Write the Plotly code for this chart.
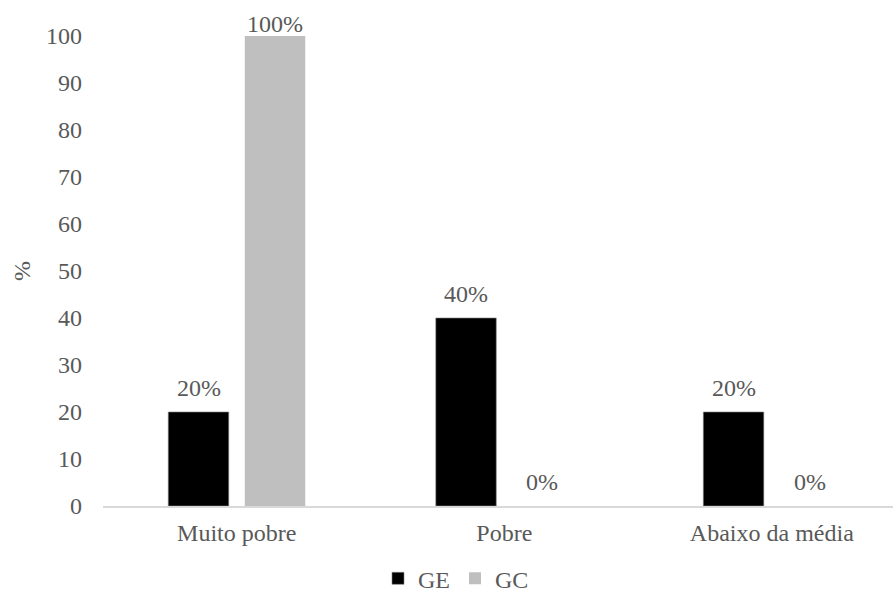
import plotly.graph_objects as go

categories = ["Muito pobre", "Pobre", "Abaixo da média"]
ge_values = [20, 40, 20]
gc_values = [100, 0, 0]
ge_labels = ["20%", "40%", "20%"]
gc_labels = ["100%", "0%", "0%"]
y_ticks = [0, 10, 20, 30, 40, 50, 60, 70, 80, 90, 100]

FONT = "'Times New Roman', 'Liberation Serif', Times, serif"
TXT = "#595959"
FS = 24
Y_MAX = 100

fig = go.Figure()
fig.add_trace(go.Bar(
    name="GE", x=categories, y=ge_values,
    marker=dict(color="#000000", line=dict(color="#7f7f7f", width=0.6)),
))
fig.add_trace(go.Bar(
    name="GC", x=categories, y=gc_values,
    marker=dict(color="#bfbfbf", line=dict(width=0)),
))

# data labels above each bar (label at the axis top is pulled down, as in the original)
for vals, labs, shift in ((ge_values, ge_labels, -38), (gc_values, gc_labels, 38)):
    for c, v, t in zip(categories, vals, labs):
        fig.add_annotation(x=c, y=v, text=t, showarrow=False, xref="x", yref="y",
                           xshift=shift, yanchor="bottom",
                           yshift=(-3 if v >= Y_MAX else 9),
                           font=dict(family=FONT, size=FS, color=TXT))

fig.update_layout(
    width=893, height=593,
    margin=dict(l=103, r=0, t=36, b=87, pad=0, autoexpand=False),
    paper_bgcolor="white", plot_bgcolor="white",
    font=dict(family=FONT, size=FS, color=TXT),
    barmode="group", bargap=0.428, bargroupgap=0.21,
    showlegend=True,
    legend=dict(orientation="h", x=(378 - 103) / 790, xref="paper", xanchor="left",
                yref="container", y=0.062, yanchor="top",
                font=dict(family=FONT, size=FS, color=TXT),
                bgcolor="rgba(0,0,0,0)"),
)
fig.update_xaxes(
    range=[-0.5, 2.453], showline=True, linecolor="#d9d9d9", linewidth=1.5,
    ticks="", showgrid=False, zeroline=False, ticklabelstandoff=4,
    automargin=False,
    tickfont=dict(family=FONT, size=FS, color=TXT),
)
fig.update_yaxes(
    range=[0, Y_MAX], tickvals=y_ticks, showline=False, showgrid=False,
    zeroline=False, ticks="", ticklabelstandoff=20, automargin=False,
    tickfont=dict(family=FONT, size=FS, color=TXT),
    title=dict(text="%", font=dict(family=FONT, size=FS, color=TXT), standoff=8),
)

fig.write_html("out.html")
